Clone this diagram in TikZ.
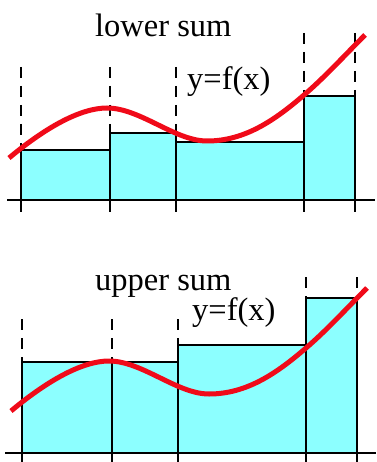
\documentclass[tikz,border=0pt]{standalone}
\usepackage{fontspec}
\setmainfont{Liberation Serif}
\definecolor{barfill}{RGB}{140,255,255}
\definecolor{curvered}{RGB}{240,10,25}
\tikzset{
  bar/.style={fill=barfill,draw=black,line width=1.4pt},
  guide/.style={draw=black,line width=1.2pt,dash pattern=on 11pt off 8pt},
  axisline/.style={draw=black,line width=1.4pt},
  fcurve/.style={draw=curvered,line width=5pt},
  lbl/.style={inner sep=0pt,anchor=base west,font=\fontsize{32.5}{38}\selectfont}
}
\newcommand\myfcurve{\path[fcurve] (9,158) .. controls (45,128) and (80,108) .. (107,108)
  .. controls (140,108) and (175,141) .. (207,141)
  .. controls (245,141) and (275,120) .. (304,95)
  .. controls (325,77) and (345,55) .. (365,35);}
\begin{document}
\begin{tikzpicture}[x=1pt,y=-1pt]
\useasboundingbox (0,0) rectangle (376,462);
% ---------- lower sum ----------
\path[bar] (21,150) rectangle (110,200);
\path[bar] (110,133) rectangle (176,200);
\path[bar] (176,142) rectangle (304,200);
\path[bar] (304,96) rectangle (355,200);
\path[axisline] (7,200) -- (375,200);
\foreach \x in {21,110,176,304,355} \path[axisline] (\x,200) -- (\x,212);
\path[guide] (21,67) -- (21,150);
\path[guide] (110,67) -- (110,133);
\path[guide] (176,67) -- (176,142);
\path[guide] (304,33) -- (304,96);
\path[guide] (355,33) -- (355,96);
\myfcurve
\node[lbl] (lower) at (95,37) {lower sum};
\node[lbl] (f1) at (187,90) {y=f(x)};
% ---------- upper sum ----------
\path[bar] (22,362) rectangle (112,453);
\path[bar] (112,362) rectangle (178,453);
\path[bar] (178,345) rectangle (306,453);
\path[bar] (306,298) rectangle (357,453);
\path[axisline] (5,453) -- (376,453);
\foreach \x in {22,112,178,306,357} \path[axisline] (\x,453) -- (\x,462);
\path[guide] (22,319) -- (22,362);
\path[guide] (112,319) -- (112,362);
\path[guide] (178,319) -- (178,345);
\path[guide] (306,277) -- (306,298);
\path[guide] (357,277) -- (357,298);
\begin{scope}[shift={(2,253)}]
\myfcurve
\end{scope}
\node[lbl] (upper) at (95,290) {upper sum};
\node[lbl] (f2) at (192,320) {y=f(x)};
\end{tikzpicture}
\end{document}
